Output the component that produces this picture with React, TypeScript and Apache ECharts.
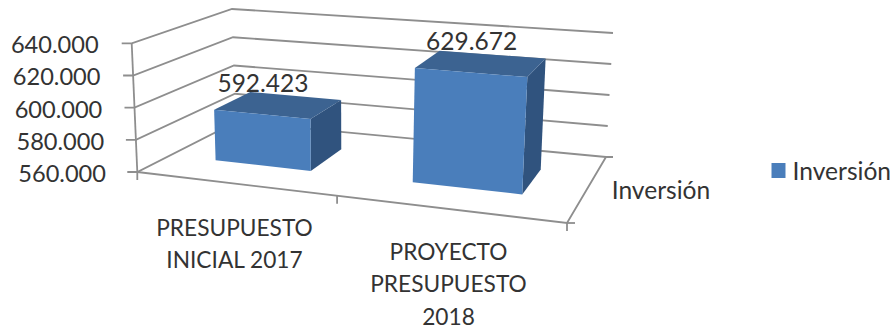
import React, { useEffect, useRef } from "react";
import * as echarts from "echarts";

// Chart data
const categories = ["PRESUPUESTO\nINICIAL 2017", "PROYECTO\nPRESUPUESTO\n2018"];
const inversion = [592423, 629672];
const seriesName = "Inversión";
const yTicks = [560000, 580000, 600000, 620000, 640000];
const yTickLabels = ["560.000", "580.000", "600.000", "620.000", "640.000"];

// Corners of the 3D plot box in page pixels: [x, y]
type Pt = [number, number];
const FLB: Pt = [137.3, 172];
const FRB: Pt = [567, 223];
const BLB: Pt = [236, 122];
const BRB: Pt = [606, 157];
const FLT: Pt = [131.7, 43.3];
const FRT: Pt = [575, 80];
const BLT: Pt = [232, 9];
const BRT: Pt = [613, 33];

const PERSPECTIVE = 0.869; // foreshortening along the category axis
const BAR_FRONT = 0.335;
const BAR_BACK = 0.725;

const FONT = "Lato";
const TEXT = "#333333";
const GRID = "#8e8e8e";
const FACE = "#4a7ebb";
const TOP = "#3c6391";
const SIDE = "#30537e";

const mix = (a: Pt, b: Pt, t: number): Pt => [a[0] + (b[0] - a[0]) * t, a[1] + (b[1] - a[1]) * t];

// Maps box coordinates (along categories, depth, height; each 0..1) onto the page.
function project(u: number, w: number, h: number): Pt {
  const p = (PERSPECTIVE * u) / (1 + (PERSPECTIVE - 1) * u);
  const bottom = mix(mix(FLB, FRB, p), mix(BLB, BRB, p), w);
  const top = mix(mix(FLT, FRT, p), mix(BLT, BRT, p), w);
  return mix(bottom, top, h);
}

const formatThousands = (v: number) => String(v).replace(/\B(?=(\d{3})+$)/g, ".");

const line = (points: Pt[]) => ({
  type: "polyline",
  silent: true,
  shape: { points },
  style: { stroke: GRID, lineWidth: 1.8, fill: "none" },
});

function normaliser(params: any, api: any) {
  const cs = params.coordSys;
  return (category: number, value: number) => {
    const c = api.coord([category, value]);
    return { u: (c[0] - cs.x) / cs.width, h: (cs.y + cs.height - c[1]) / cs.height };
  };
}

// Walls and floor: one gridline per value tick, plus the box outline once.
function renderFrame(params: any, api: any) {
  const norm = normaliser(params, api);
  const { h } = norm(0, api.value(1));
  const children: any[] = [];
  const front = project(0, 0, h);
  children.push(line([[front[0] - 10, front[1]], front, project(0, 1, h), project(1, 1, h)]));
  if (params.dataIndex === 0) {
    const br = project(1, 1, 0);
    const fr = project(1, 0, 0);
    children.push(line([project(0, 0, 0), project(0, 0, 1)]));
    children.push(line([project(0, 0, 0), fr, br, [br[0] + 7, br[1]]]));
    children.push(line([fr, [fr[0] + 8, fr[1]]]));
    [0, 0.5, 1].forEach((u) => {
      const p = project(u, 0, 0);
      children.push(line([p, [p[0], p[1] + 8]]));
    });
  }
  return { type: "group", children };
}

// One 3D column: side and top faces, front face, then its value above.
function renderBar(params: any, api: any) {
  const norm = normaliser(params, api);
  const value = api.value(1);
  const category = api.value(0);
  const { u, h } = norm(category, value);
  const half = api.size([1, 0])[0] / params.coordSys.width / 4;
  const [u0, u1] = [u - half, u + half];
  const poly = (points: Pt[], fill: string) => ({
    type: "polygon",
    shape: { points },
    style: { fill, stroke: "none" },
  });
  const labelAt = project(u, BAR_FRONT, h);
  return {
    type: "group",
    children: [
      poly(
        [project(u1, BAR_FRONT, 0), project(u1, BAR_BACK, 0), project(u1, BAR_BACK, h), project(u1, BAR_FRONT, h)],
        SIDE
      ),
      poly(
        [project(u0, BAR_FRONT, h), project(u1, BAR_FRONT, h), project(u1, BAR_BACK, h), project(u0, BAR_BACK, h)],
        TOP
      ),
      poly(
        [project(u0, BAR_FRONT, 0), project(u1, BAR_FRONT, 0), project(u1, BAR_FRONT, h), project(u0, BAR_FRONT, h)],
        FACE
      ),
      {
        type: "text",
        style: {
          text: formatThousands(value),
          x: labelAt[0] + 1.5,
          y: labelAt[1] - 32,
          align: "center",
          verticalAlign: "middle",
          fontFamily: FONT,
          fontSize: 24.5,
          fill: TEXT,
        },
      },
    ],
  };
}

export default function App() {
  const ref = useRef<HTMLDivElement>(null);

  useEffect(() => {
    const chart = echarts.init(ref.current!, undefined, { renderer: "svg" });
    const yRich: any = {};
    yTicks.forEach((_, i) => {
      // the value axis leans slightly, so higher labels sit further left
      yRich[`t${i}`] = { fontFamily: FONT, fontSize: 23.6, color: TEXT, padding: [0, i * 1.85, 0, 0] };
    });
    chart.setOption({
      animation: false,
      backgroundColor: "#ffffff",
      grid: { left: 127.5, top: 44, width: 428, height: 129, containLabel: false },
      legend: {
        data: [seriesName],
        left: 771.5,
        top: 158,
        padding: 0,
        icon: "rect",
        itemWidth: 14,
        itemHeight: 15,
        itemGap: 0,
        selectedMode: false,
        textStyle: { fontFamily: FONT, fontSize: 24.6, color: TEXT, padding: [0, 0, 0, 2] },
      },
      xAxis: {
        type: "category",
        data: categories,
        axisLine: { show: false },
        axisTick: { show: false },
        axisLabel: {
          interval: 0,
          margin: 38,
          formatter: (v: string, i: number) => {
            const lines = v.split("\n").map((part) => `{line|${part}}`);
            // the nearer category sits lower, following the slope of the floor
            return (i === 1 ? ["{gap| }", ...lines] : lines).join("\n");
          },
          rich: {
            line: { fontFamily: FONT, fontSize: 22.7, color: TEXT, lineHeight: 32.5 },
            gap: { fontSize: 10, lineHeight: 24 },
          },
        },
      },
      yAxis: {
        type: "value",
        min: 560000,
        max: 640000,
        interval: 20000,
        axisLine: { show: false },
        axisTick: { show: false },
        splitLine: { show: false },
        axisLabel: {
          margin: 21.5,
          formatter: (v: number) => {
            const i = yTicks.indexOf(v);
            return `{t${i}|${yTickLabels[i]}}`;
          },
          rich: yRich,
        },
      },
      graphic: [
        {
          type: "text",
          silent: true,
          style: {
            text: seriesName,
            x: 661,
            y: 189,
            align: "center",
            verticalAlign: "middle",
            fontFamily: FONT,
            fontSize: 24.6,
            fill: TEXT,
          },
        },
      ],
      series: [
        {
          type: "custom",
          name: "frame",
          silent: true,
          clip: false,
          z: 1,
          renderItem: renderFrame,
          encode: { x: 0, y: 1 },
          data: yTicks.map((v) => [0, v]),
        },
        {
          type: "custom",
          name: seriesName,
          silent: true,
          clip: false,
          z: 2,
          itemStyle: { color: FACE },
          renderItem: renderBar,
          encode: { x: 0, y: 1 },
          data: inversion.map((v, i) => [i, v]),
        },
      ],
    });
    return () => chart.dispose();
  }, []);

  return (
    <div
      ref={ref}
      style={{ position: "absolute", left: 0, top: 0, width: 893, height: 329, background: "#fff" }}
    />
  );
}
